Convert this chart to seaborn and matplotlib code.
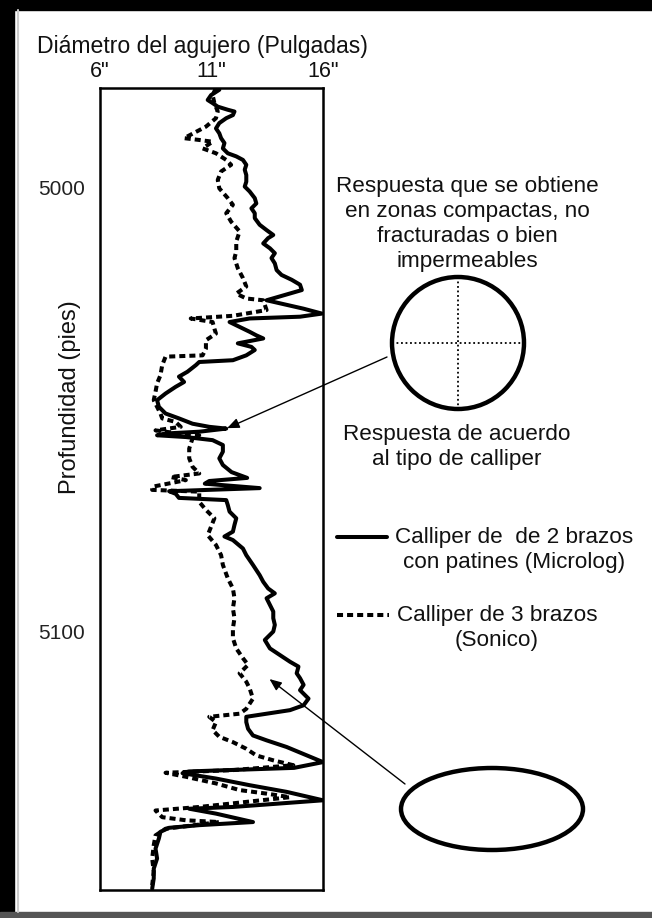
import matplotlib
matplotlib.use("Agg")
import matplotlib.pyplot as plt
import pandas as pd
import seaborn as sns
from matplotlib.patches import Circle, Ellipse, Rectangle

# Two-arm pad caliper (Microlog): depth in feet, hole diameter in inches
micro_depth = [
    4977.5, 4977.9, 4979.1, 4980.2, 4980.9, 4981.7, 4982.4, 4982.8, 4983.6, 4984.3,
    4985.4, 4986.6, 4987.7, 4988.8, 4989.9, 4991.1, 4992.2, 4992.9, 4993.7, 4994.8,
    4995.9, 4997.1, 4998.6, 4999.7, 5000.8, 5002.3, 5003.5, 5004.6, 5005.7, 5006.8,
    5008.3, 5009.5, 5010.6, 5011.3, 5012.5, 5013.6, 5014.7, 5015.8, 5017.0, 5018.5,
    5019.6, 5020.7, 5021.8, 5023.0, 5025.3, 5027.2, 5028.3, 5029.0, 5029.4, 5030.2,
    5031.3, 5032.4, 5033.2, 5033.9, 5034.5, 5035.0, 5035.8, 5036.5, 5037.7, 5038.8,
    5039.2, 5039.9, 5041.4, 5042.5, 5043.7, 5044.8, 5046.3, 5047.8, 5049.3, 5050.8,
    5051.9, 5053.1, 5053.8, 5054.2, 5054.9, 5055.3, 5055.7, 5056.1, 5056.8, 5057.9,
    5059.4, 5060.9, 5062.4, 5064.0, 5065.3, 5066.0, 5066.6, 5067.6, 5068.3, 5068.9,
    5069.8, 5070.3, 5071.4, 5072.9, 5074.4, 5075.9, 5077.4, 5078.5, 5079.3, 5081.2,
    5082.7, 5084.9, 5087.2, 5088.7, 5090.2, 5091.3, 5092.4, 5093.9, 5095.4, 5096.9,
    5098.4, 5099.9, 5101.8, 5103.7, 5105.2, 5106.7, 5107.8, 5109.3, 5110.4, 5111.9,
    5113.1, 5115.0, 5116.5, 5117.6, 5118.4, 5119.1, 5120.3, 5121.8, 5123.3, 5124.4,
    5125.9, 5127.8, 5129.3, 5130.6, 5131.4, 5131.8, 5133.0, 5134.5, 5136.0, 5137.9,
    5139.4, 5139.8, 5140.9, 5142.8, 5143.5, 5144.1, 5145.0, 5146.5, 5148.8, 5151.0,
    5153.3, 5155.5, 5157.8,
]
micro_diam = [
    11.20, 11.35, 10.98, 10.83, 11.05, 11.28, 11.73, 12.03, 11.96, 11.66,
    11.35, 11.20, 11.35, 11.43, 11.58, 11.51, 11.73, 12.11, 12.41, 12.56,
    12.49, 12.56, 12.56, 12.49, 12.71, 12.94, 13.01, 12.79, 12.94, 12.94,
    13.16, 13.47, 13.77, 13.54, 13.32, 13.62, 13.84, 13.69, 13.84, 13.92,
    14.14, 14.60, 14.97, 15.05, 13.47, 15.13, 15.95, 14.97, 12.71, 11.81,
    12.26, 12.71, 13.01, 13.32, 12.71, 12.18, 12.79, 12.94, 12.56, 11.96,
    10.45, 10.30, 9.92, 9.54, 9.77, 9.39, 8.94, 8.56, 8.64, 8.94,
    9.54, 10.15, 10.90, 11.66, 10.45, 8.94, 8.56, 9.85, 11.05, 11.51,
    11.51, 11.35, 11.51, 11.90, 12.60, 10.90, 10.70, 13.16, 9.10, 9.40,
    9.54, 11.66, 11.73, 11.81, 12.11, 12.03, 11.96, 11.58, 11.96, 12.41,
    12.56, 12.86, 13.16, 13.32, 13.54, 13.84, 13.47, 13.62, 13.77, 13.77,
    13.84, 13.77, 13.39, 13.62, 14.07, 14.52, 14.90, 14.82, 14.97, 15.13,
    14.97, 15.35, 15.13, 14.52, 13.47, 12.56, 12.56, 12.64, 12.86, 13.47,
    14.37, 15.28, 16.00, 14.70, 10.00, 9.70, 11.20, 12.71, 14.37, 16.00,
    11.96, 10.00, 11.20, 12.86, 10.45, 9.09, 8.71, 8.64, 8.49, 8.56,
    8.41, 8.41, 8.34,
]

# Three-arm caliper (Sonic): depth in feet, hole diameter in inches
sonic_depth = [
    4977.5, 4979.1, 4980.9, 4982.8, 4984.3, 4986.2, 4988.8, 4989.2, 4989.6, 4991.1,
    4992.2, 4993.7, 4994.8, 4996.3, 4998.2, 5000.1, 5002.3, 5003.8, 5005.7, 5007.6,
    5009.8, 5012.1, 5014.3, 5015.8, 5018.1, 5020.3, 5022.2, 5023.8, 5024.9, 5025.3,
    5027.5, 5028.8, 5029.4, 5030.2, 5031.7, 5032.8, 5034.3, 5036.2, 5037.7, 5038.0,
    5039.9, 5042.2, 5044.0, 5045.9, 5047.8, 5050.8, 5051.9, 5052.7, 5053.8, 5054.6,
    5055.3, 5055.7, 5056.4, 5058.7, 5060.9, 5062.8, 5064.3, 5065.1, 5065.8, 5067.3,
    5068.0, 5068.4, 5070.7, 5072.5, 5074.4, 5078.2, 5080.4, 5082.7, 5084.9, 5087.9,
    5090.2, 5092.4, 5094.7, 5096.9, 5099.2, 5101.4, 5103.7, 5105.9, 5107.4, 5109.3,
    5111.2, 5112.7, 5115.0, 5117.3, 5118.4, 5119.1, 5120.3, 5122.1, 5123.6, 5124.8,
    5126.3, 5127.8, 5128.9, 5130.0, 5131.1, 5131.7, 5132.6, 5134.1, 5135.6, 5136.4,
    5137.2, 5139.4, 5140.2, 5141.7, 5142.4, 5142.8, 5144.3, 5145.8, 5148.0, 5151.0,
    5154.0, 5157.0,
]
sonic_diam = [
    11.20, 11.05, 11.13, 11.28, 11.20, 10.75, 9.77, 10.45, 11.05, 10.60,
    11.20, 11.66, 11.88, 11.43, 11.28, 11.35, 11.73, 11.96, 11.66, 11.88,
    12.26, 12.11, 12.11, 12.03, 12.18, 12.41, 12.56, 12.11, 12.56, 13.32,
    13.47, 11.96, 10.07, 11.05, 11.13, 11.20, 10.75, 10.75, 10.60, 8.94,
    8.79, 8.71, 8.56, 8.49, 8.41, 8.71, 8.79, 9.39, 9.62, 8.49,
    9.54, 10.45, 10.15, 10.00, 10.00, 10.15, 10.45, 9.17, 9.85, 8.34,
    8.34, 10.45, 10.45, 10.75, 11.13, 10.83, 11.20, 11.43, 11.51, 11.73,
    11.96, 12.03, 11.96, 12.03, 11.96, 11.96, 12.11, 12.41, 12.64, 12.26,
    12.56, 12.71, 12.86, 12.56, 12.26, 10.90, 11.20, 11.05, 11.35, 11.96,
    12.56, 13.01, 13.77, 14.67, 11.96, 8.94, 9.85, 11.20, 12.26, 13.47,
    14.52, 10.45, 8.49, 8.79, 9.85, 11.35, 8.94, 8.49, 8.41, 8.34,
    8.41, 8.34,
]

diam_ticks = [6, 11, 16]
diam_labels = ['6"', '11"', '16"']
depth_ticks = [5000, 5100]
depth_labels = ["5000", "5100"]

micro = pd.DataFrame({"diametro": micro_diam, "profundidad": micro_depth})
sonic = pd.DataFrame({"diametro": sonic_diam, "profundidad": sonic_depth})

sns.set_theme(style="white")
plt.rcParams["font.family"] = ["Liberation Sans", "DejaVu Sans"]

W, H = 652, 918
fig = plt.figure(figsize=(W / 100, H / 100), dpi=100)
fig.patch.set_facecolor("white")

# full-figure overlay in pixel units for the frame, notes and sketches
ov = fig.add_axes([0, 0, 1, 1], zorder=3)
ov.set_xlim(0, W)
ov.set_ylim(H, 0)
ov.axis("off")
ov.patch.set_alpha(0)

ax = fig.add_axes([100 / W, 1 - 890 / H, 223 / W, 802 / H], zorder=2)
ax.patch.set_facecolor("white")

LW = 2.9
DASH = (0, (1.5, 1.0))
sns.lineplot(data=micro, x="diametro", y="profundidad", sort=False, estimator=None,
             color="black", linewidth=LW, ax=ax)
sns.lineplot(data=sonic, x="diametro", y="profundidad", sort=False, estimator=None,
             color="black", linewidth=LW, linestyle=DASH, ax=ax)

ax.set_xlim(6, 16)
ax.set_ylim(5158.1, 4977.5)
ax.xaxis.tick_top()
ax.set_xticks(diam_ticks)
ax.set_xticklabels(diam_labels)
ax.set_yticks(depth_ticks)
ax.set_yticklabels(depth_labels)
ax.tick_params(axis="x", length=0, pad=4, labelsize=15.5, labelcolor="#111111")
ax.tick_params(axis="y", length=0, pad=11, labelsize=15, labelcolor="#222222")
ax.set_xlabel("")
ax.set_ylabel("Profundidad (pies)", fontsize=17, color="#111111")
ax.yaxis.set_label_coords(-0.085, 0.615)
for s in ax.spines.values():
    s.set_visible(True)
    s.set_color("black")
    s.set_linewidth(1.8)

fig.text(37 / W, 1 - 47 / H, "Diámetro del agujero (Pulgadas)", fontsize=16.6,
         ha="left", va="center", color="#111111")

# page frame
ov.add_patch(Rectangle((0, 0), W, 10, color="black", zorder=5))
ov.add_patch(Rectangle((0, 0), 14, H, color="black", zorder=5))
ov.add_patch(Rectangle((0, 912), W, 6, color="#555555", zorder=5))
ov.plot([18, 18], [10, 912], color="#cccccc", lw=1.5, zorder=5)

txt = dict(fontsize=16.2, color="#111111", ha="center", va="center")
ov.text(467, 224, "Respuesta que se obtiene\nen zonas compactas, no\nfracturadas o bien\nimpermeables",
        linespacing=1.25, **txt)
ov.text(457, 447, "Respuesta de acuerdo\nal tipo de calliper", linespacing=1.25, **txt)

# round hole sketch with dotted crosshair
ov.add_patch(Circle((458, 343), 66, fill=False, ec="black", lw=3.2))
ov.plot([458, 458], [277, 409], color="black", lw=1.3, ls=(0, (1, 1.5)))
ov.plot([392, 524], [343, 343], color="black", lw=1.3, ls=(0, (1, 1.5)))

# oval hole sketch
ov.add_patch(Ellipse((492, 809), 182, 82, fill=False, ec="black", lw=3.2))

# legend entries
ov.plot([337, 387], [537, 537], color="black", lw=LW)
ov.text(514, 550, "Calliper de  de 2 brazos\ncon patines (Microlog)", linespacing=1.25, **txt)
ov.plot([337, 389], [615, 615], color="black", lw=LW, ls=DASH)
ov.text(497, 628, "Calliper de 3 brazos\n(Sonico)", linespacing=1.25, **txt)

arrow = dict(arrowstyle="-|>,head_length=0.6,head_width=0.25", color="black", lw=1.0,
             shrinkA=0, shrinkB=0)
ov.annotate("", xy=(11.7, 5054.1), xycoords=ax.transData,
            xytext=(387, 357), textcoords="data", arrowprops=arrow)
ov.annotate("", xy=(13.6, 5110.6), xycoords=ax.transData,
            xytext=(405, 784), textcoords="data", arrowprops=arrow)

fig.savefig("out.png", dpi=100, facecolor="white")
